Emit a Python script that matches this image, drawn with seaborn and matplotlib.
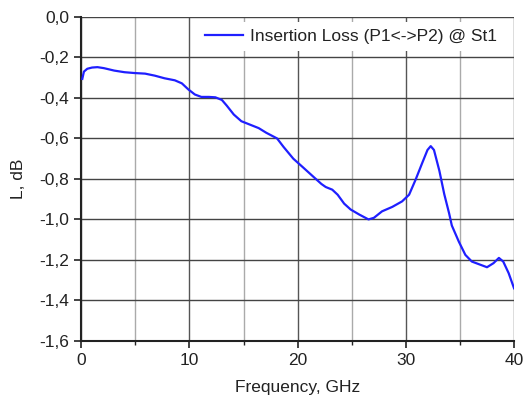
import pandas as pd
import matplotlib.pyplot as plt
import matplotlib.ticker as mticker
import seaborn as sns

freq = [0.1, 0.25, 0.56, 1.0, 1.5, 2.1, 3.05, 4.0, 4.9, 5.9, 6.8, 7.7, 8.65, 9.3,
        9.9, 10.5, 11.1, 11.8, 12.4, 13.0, 13.45, 14.1, 14.8, 15.6, 16.4, 17.1,
        18.1, 18.7, 19.6, 20.5, 21.45, 22.2, 22.6, 23.2, 23.7, 24.3, 24.9, 25.7,
        26.55, 27.05, 27.8, 28.75, 29.65, 30.3, 30.9, 31.5, 32.0, 32.3, 32.6, 33.1,
        33.55, 34.0, 34.25, 34.9, 35.5, 36.1, 36.7, 37.5, 38.1, 38.6, 39.0, 39.5, 40.0]
loss = [-0.306, -0.27, -0.256, -0.25, -0.248, -0.253, -0.265, -0.273, -0.277, -0.28,
        -0.29, -0.303, -0.313, -0.328, -0.358, -0.383, -0.395, -0.395, -0.397, -0.41,
        -0.438, -0.482, -0.515, -0.532, -0.549, -0.572, -0.60, -0.642, -0.70, -0.743,
        -0.789, -0.825, -0.84, -0.853, -0.878, -0.922, -0.951, -0.976, -1.0, -0.992,
        -0.96, -0.938, -0.911, -0.878, -0.804, -0.723, -0.657, -0.638, -0.657, -0.76,
        -0.875, -0.97, -1.03, -1.11, -1.175, -1.208, -1.22, -1.236, -1.216, -1.19,
        -1.208, -1.265, -1.34]

df = pd.DataFrame({'freq': freq, 'loss': loss})

plt.rcParams['font.family'] = ['Liberation Sans', 'DejaVu Sans']
fig = plt.figure(figsize=(5.24, 4.03), dpi=100)
ax = fig.add_axes([0.155, 0.154, 0.826, 0.804])

sns.lineplot(data=df, x='freq', y='loss', color='#1f1fff', linewidth=1.6,
             label='Insertion Loss (P1<->P2) @ St1', ax=ax, zorder=3)

ax.set_xlim(0, 40)
ax.set_ylim(-1.6, 0)
ax.xaxis.set_major_locator(mticker.MultipleLocator(10))
ax.xaxis.set_minor_locator(mticker.MultipleLocator(5))
ax.yaxis.set_major_locator(mticker.MultipleLocator(0.2))
ax.yaxis.set_major_formatter(mticker.FuncFormatter(lambda v, p: f'{v:.1f}'.replace('.', ',').replace('-0,0', '0,0')))

ax.grid(which='major', axis='x', color='#555555', linewidth=1)
ax.grid(which='minor', axis='x', color='#aaaaaa', linewidth=1)
ax.grid(which='major', axis='y', color='#444444', linewidth=1)
ax.set_axisbelow(True)

for s in ['top', 'right']:
    ax.spines[s].set_visible(False)
for s in ['left', 'bottom']:
    ax.spines[s].set_linewidth(1.5)
    ax.spines[s].set_color('#222222')

ax.tick_params(which='major', length=5, width=1.2, labelsize=12.5, color='#222222',
               labelcolor='#222222')
ax.tick_params(which='minor', length=3, width=1, color='#222222')

ax.set_xlabel('Frequency, GHz', fontsize=12.5, labelpad=9, color='#222222')
ax.set_ylabel('L, dB', fontsize=12.5, labelpad=10, color='#222222')

leg = ax.legend(loc='upper right', bbox_to_anchor=(0.98, 0.99), frameon=True,
                fontsize=12.5, handlelength=2.2, handletextpad=0.4, borderaxespad=0.1,
                labelcolor='#222222')
leg.get_frame().set_facecolor('white')
leg.get_frame().set_edgecolor('none')
leg.get_frame().set_alpha(1)

fig.savefig('out.png', dpi=100)
